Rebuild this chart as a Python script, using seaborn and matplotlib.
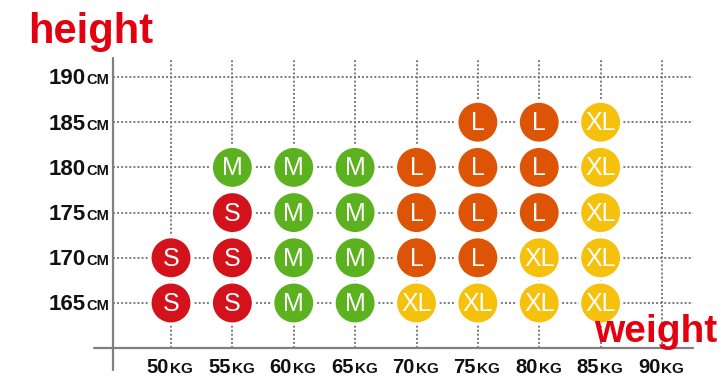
import pandas as pd
import matplotlib
matplotlib.use("Agg")
import matplotlib.pyplot as plt
import matplotlib.transforms as mtransforms
import seaborn as sns

# ---- data ----
weights = [50, 55, 60, 65, 70, 75, 80, 85]
size_165 = ["S", "S", "M", "M", "XL", "XL", "XL", "XL"]
size_170 = ["S", "S", "M", "M", "L", "L", "XL", "XL"]
size_175 = [None, "S", "M", "M", "L", "L", "L", "XL"]
size_180 = [None, "M", "M", "M", "L", "L", "L", "XL"]
size_185 = [None, None, None, None, None, "L", "L", "XL"]
rows = {165: size_165, 170: size_170, 175: size_175, 180: size_180, 185: size_185}

weight_ticks = [50, 55, 60, 65, 70, 75, 80, 85, 90]
height_ticks = [165, 170, 175, 180, 185, 190]

colors = {"S": "#d3121c", "M": "#5cb21e", "L": "#de5407", "XL": "#f6c10c"}

records = []
for h, sizes in rows.items():
    for w, s in zip(weights, sizes):
        if s is not None:
            records.append({"weight": w, "height": h, "size": s})
df = pd.DataFrame(records)


def main():
    sns.set_style("white")
    plt.rcParams["font.family"] = ["Liberation Sans", "DejaVu Sans"]

    W, H = 728, 378
    fig = plt.figure(figsize=(W / 100, H / 100), dpi=100)
    ax = fig.add_axes([0, 0, 1, 1])

    # pixel calibration: 50kg -> x=171, 12.275 px per kg; 165cm -> y=303, 9.04 px per cm
    px_kg, px_cm = 12.275, 9.04
    ax.set_xlim(50 - 171 / px_kg, 50 + (W - 171) / px_kg)
    ax.set_ylim(165 - (H - 303) / px_cm, 165 + 303 / px_cm)
    ax.axis("off")

    x_axis_h = 165 - (348 - 303) / px_cm
    y_axis_w = 50 - (171 - 113) / px_kg
    grid_top = 165 + (303 - 58) / px_cm
    grid_right = 50 + (693 - 171) / px_kg

    grid_kw = dict(color="#7a7a7a", lw=1.4, ls=(0, (1, 1.1)), zorder=1)
    for w in weight_ticks:
        ax.plot([w, w], [x_axis_h, grid_top], **grid_kw)
    for h in height_ticks:
        ax.plot([y_axis_w, grid_right], [h, h], **grid_kw)

    # axis lines
    ax.plot([50 - (171 - 94) / px_kg, grid_right], [x_axis_h, x_axis_h],
            color="#808080", lw=1.6, zorder=2)
    ax.plot([y_axis_w, y_axis_w], [165 - (370 - 303) / px_cm, grid_top],
            color="#808080", lw=1.6, zorder=2)

    sns.scatterplot(data=df, x="weight", y="height", hue="size", palette=colors,
                    s=900, edgecolor="white", linewidth=2, legend=False,
                    zorder=3, ax=ax)

    for _, r in df.iterrows():
        ax.text(r["weight"], r["height"] - 0.1, r["size"], color="white",
                fontsize=18, ha="center", va="center", zorder=4)

    # y tick labels: big number + small "CM"
    y_anchor = 50 - (171 - 86) / px_kg
    for h in height_ticks:
        tr = mtransforms.offset_copy(ax.transData, fig=fig, x=0, y=-7.5, units="dots")
        ax.text(y_anchor, h, str(h), transform=tr, fontsize=16, fontweight="bold",
                ha="right", va="baseline", color="#111111")
        ax.text(y_anchor, h, "CM", transform=tr, fontsize=10.5, fontweight="bold",
                ha="left", va="baseline", color="#111111")

    # x tick labels: big number + small "KG"
    x_base = 165 - (373 - 303) / px_cm
    for w in weight_ticks:
        ax.text(w - 0.15, x_base, str(w), fontsize=14.5, fontweight="bold",
                ha="right", va="baseline", color="#111111")
        ax.text(w - 0.05, x_base, "KG", fontsize=11, fontweight="bold",
                ha="left", va="baseline", color="#111111")

    fig.text(28 / W, 1 - 43 / H, "height", color="#e3000f", fontsize=30,
             fontweight="bold", ha="left", va="baseline")
    fig.text(594 / W, 1 - 342 / H, "weight", color="#e3000f", fontsize=28,
             fontweight="bold", ha="left", va="baseline")

    fig.savefig("out.png", dpi=100, facecolor="white")
    plt.close(fig)


if __name__ == "__main__":
    main()
